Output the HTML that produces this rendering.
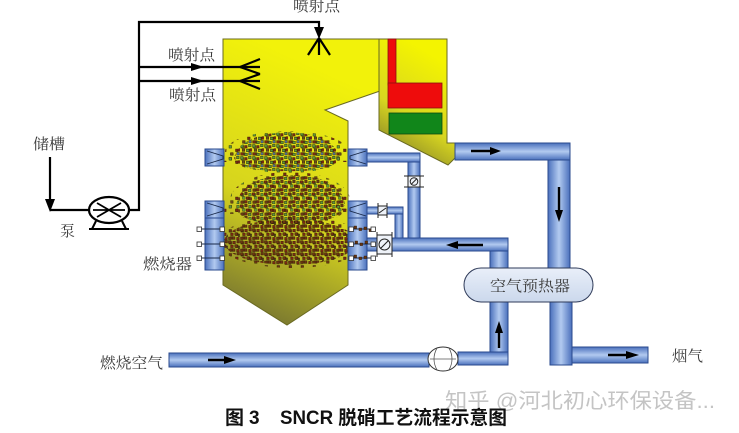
<!DOCTYPE html>
<html><head><meta charset="utf-8">
<style>
html,body{margin:0;padding:0;background:#fff;}
svg{display:block;}
.lbl{font-family:"Liberation Serif","Noto Serif CJK SC",serif;font-size:15px;fill:#3a3a3a;}
.cap{font-family:"Liberation Sans","Noto Sans CJK SC",sans-serif;font-size:19px;font-weight:bold;fill:#111;}
.wm{font-family:"Liberation Sans","Noto Sans CJK SC",sans-serif;font-size:21px;fill:#c4c4c4;}
</style></head><body>
<svg width="739" height="433" viewBox="0 0 739 433" xmlns="http://www.w3.org/2000/svg">
<defs>
 <linearGradient id="ph" x1="0" y1="0" x2="0" y2="1"><stop offset="0" stop-color="#4a70bc"/><stop offset="0.5" stop-color="#b2caf0"/><stop offset="1" stop-color="#4a70bc"/></linearGradient>
 <linearGradient id="pv" x1="0" y1="0" x2="1" y2="0"><stop offset="0" stop-color="#4a70bc"/><stop offset="0.5" stop-color="#b2caf0"/><stop offset="1" stop-color="#4a70bc"/></linearGradient>
 <linearGradient id="fur" gradientUnits="userSpaceOnUse" x1="345" y1="80" x2="235" y2="320"><stop offset="0" stop-color="#f2f20a"/><stop offset="0.55" stop-color="#d6d41e"/><stop offset="1" stop-color="#6f6d32"/></linearGradient>
 <linearGradient id="bp" gradientUnits="userSpaceOnUse" x1="440" y1="60" x2="385" y2="150"><stop offset="0" stop-color="#f4f400"/><stop offset="0.6" stop-color="#d8d620"/><stop offset="1" stop-color="#8a8828"/></linearGradient>
 <linearGradient id="pre" x1="0" y1="0" x2="0" y2="1"><stop offset="0" stop-color="#e9eff9"/><stop offset="1" stop-color="#cbd8ec"/></linearGradient>

 <pattern id="pA" width="12" height="12" patternUnits="userSpaceOnUse">
  <g stroke="#2a1a08" stroke-width="0.4">
   <rect x="0.5" y="0.5" width="2.6" height="2.6" fill="#5c9a38"/>
   <rect x="4.5" y="1.5" width="2.6" height="2.6" fill="#7a2a12"/>
   <rect x="8.5" y="0.2" width="2.6" height="2.6" fill="#5c9a38"/>
   <rect x="2.2" y="4.8" width="2.6" height="2.6" fill="#6b4a1a"/>
   <rect x="6.4" y="5.2" width="2.6" height="2.6" fill="#5c9a38"/>
   <rect x="10" y="4.6" width="2.6" height="2.6" fill="#7a2a12"/>
   <rect x="0.6" y="8.6" width="2.6" height="2.6" fill="#7a2a12"/>
   <rect x="4.8" y="9.2" width="2.6" height="2.6" fill="#5c9a38"/>
   <rect x="8.8" y="8.4" width="2.6" height="2.6" fill="#4f6f8f"/>
  </g>
 </pattern>
 <pattern id="pB" width="12" height="12" patternUnits="userSpaceOnUse">
  <g stroke="#2a1a08" stroke-width="0.4">
   <rect x="0.3" y="0.8" width="2.6" height="2.6" fill="#7a2a12"/>
   <rect x="4.6" y="0.3" width="2.6" height="2.6" fill="#6b3a14"/>
   <rect x="8.7" y="1.4" width="2.6" height="2.6" fill="#5c9a38"/>
   <rect x="2.5" y="4.6" width="2.6" height="2.6" fill="#5c9a38"/>
   <rect x="6.2" y="4.9" width="2.6" height="2.6" fill="#7a2a12"/>
   <rect x="9.8" y="5.6" width="2.6" height="2.6" fill="#6b3a14"/>
   <rect x="0.8" y="8.9" width="2.6" height="2.6" fill="#6b3a14"/>
   <rect x="4.6" y="8.5" width="2.6" height="2.6" fill="#7a2a12"/>
   <rect x="8.4" y="9.3" width="2.6" height="2.6" fill="#5c9a38"/>
  </g>
 </pattern>
 <pattern id="pC" width="12" height="12" patternUnits="userSpaceOnUse">
  <g stroke="#2a1a08" stroke-width="0.4">
   <rect x="0.4" y="0.6" width="2.6" height="2.6" fill="#6a3410"/>
   <rect x="4.8" y="1.2" width="2.6" height="2.6" fill="#7a2a12"/>
   <rect x="8.9" y="0.4" width="2.6" height="2.6" fill="#6a3410"/>
   <rect x="2.6" y="5.0" width="2.6" height="2.6" fill="#7a2a12"/>
   <rect x="6.8" y="4.6" width="2.6" height="2.6" fill="#6a3410"/>
   <rect x="10.2" y="6.0" width="2.6" height="2.6" fill="#5a4a18"/>
   <rect x="0.5" y="9.0" width="2.6" height="2.6" fill="#6a3410"/>
   <rect x="4.4" y="8.8" width="2.6" height="2.6" fill="#6a3410"/>
   <rect x="8.6" y="9.4" width="2.6" height="2.6" fill="#7a2a12"/>
  </g>
 </pattern>
 <pattern id="pS" width="12" height="12" patternUnits="userSpaceOnUse">
  <g stroke="#2a1a08" stroke-width="0.4">
   <rect x="1.0" y="1.5" width="2.6" height="2.6" fill="#5c9a38"/>
   <rect x="7.5" y="5.0" width="2.6" height="2.6" fill="#7a2a12"/>
   <rect x="2.5" y="8.6" width="2.6" height="2.6" fill="#6b4a1a"/>
  </g>
 </pattern>
 <pattern id="pSC" width="12" height="12" patternUnits="userSpaceOnUse">
  <g stroke="#2a1a08" stroke-width="0.4">
   <rect x="1.0" y="1.5" width="2.6" height="2.6" fill="#6a3410"/>
   <rect x="7.5" y="5.0" width="2.6" height="2.6" fill="#7a2a12"/>
   <rect x="2.5" y="8.6" width="2.6" height="2.6" fill="#6a3410"/>
  </g>
 </pattern>
</defs>

<!-- furnace -->
<polygon points="223,39 380,39 380,91 325,110 348,121 348,285 287,325 223,285" fill="url(#fur)" stroke="#6a6a22" stroke-width="1"/>
<!-- back pass -->
<polygon points="379,39 447,39 447,143 455,143 455,158 448,165 379,130" fill="url(#bp)" stroke="#6a6a22" stroke-width="1"/>
<rect x="388" y="39" width="8" height="46" fill="#ee0c0c" stroke="#8a1010" stroke-width="0.8"/>
<rect x="388" y="83" width="54" height="25" fill="#ee0c0c" stroke="#8a1010" stroke-width="0.8"/>
<rect x="389" y="113" width="53" height="21" fill="#11861a" stroke="#0a4a10" stroke-width="0.8"/>

<!-- particle clouds -->
<ellipse cx="287" cy="152" rx="62" ry="21" fill="url(#pS)"/>
<path d="M234,158 Q240,134 287,132 Q334,134 340,158 Q334,172 287,171 Q240,172 234,158 Z" fill="url(#pA)"/>
<rect x="224" y="153" width="14" height="9" fill="url(#pS)"/>
<rect x="334" y="153" width="14" height="9" fill="url(#pS)"/>
<ellipse cx="290" cy="200" rx="60" ry="28" fill="url(#pS)"/>
<path d="M236,208 Q238,176 292,175 Q342,177 345,205 Q340,224 290,225 Q240,224 236,208 Z" fill="url(#pB)"/>
<rect x="224" y="205" width="14" height="9" fill="url(#pS)"/>
<rect x="334" y="205" width="14" height="9" fill="url(#pS)"/>
<ellipse cx="292" cy="242" rx="74" ry="26" fill="url(#pSC)"/>
<ellipse cx="290" cy="242" rx="66" ry="23" fill="url(#pC)"/>

<!-- pipes -->
<g stroke="#2a4a8e" stroke-width="1">
 <rect x="548" y="143" width="22" height="125" fill="url(#pv)"/>
 <rect x="455" y="143" width="115" height="17" fill="url(#ph)"/>
 <rect x="550" y="302" width="22" height="63" fill="url(#pv)"/>
 <rect x="572" y="347" width="76" height="16" fill="url(#ph)"/>
 <rect x="169" y="353" width="260" height="14" fill="url(#ph)"/>
 <rect x="490" y="302" width="18" height="63" fill="url(#pv)"/>
 <rect x="458" y="352" width="50" height="13" fill="url(#ph)"/>
 <rect x="490" y="238" width="18" height="30" fill="url(#pv)"/>
 <rect x="392" y="238" width="116" height="13" fill="url(#ph)"/>
 <rect x="367" y="238" width="10" height="13" fill="url(#ph)"/>
 <rect x="408" y="153" width="12" height="85" fill="url(#pv)"/>
 <rect x="367" y="153" width="53" height="9" fill="url(#ph)"/>
 <rect x="395" y="207" width="8" height="31" fill="url(#pv)"/>
 <rect x="367" y="207" width="36" height="7" fill="url(#ph)"/>
</g>

<!-- valves -->
<g stroke="#222" stroke-width="1" fill="#eef2f8">
 <rect x="408" y="176" width="12" height="11"/>
 <line x1="404" y1="176" x2="424" y2="176"/>
 <line x1="404" y1="187" x2="424" y2="187"/>
 <circle cx="414" cy="181.5" r="3.8" fill="none"/>
 <line x1="411" y1="184.5" x2="417" y2="178.5"/>
 <rect x="378" y="206" width="9" height="9"/>
 <line x1="378" y1="203" x2="378" y2="218"/>
 <line x1="387" y1="203" x2="387" y2="218"/>
 <line x1="379" y1="213" x2="386" y2="208"/>
 <rect x="377" y="235" width="15" height="19"/>
 <line x1="377" y1="232" x2="377" y2="257"/>
 <line x1="392" y1="232" x2="392" y2="257"/>
 <circle cx="384.5" cy="244.5" r="5.5" fill="none"/>
 <line x1="380.5" y1="248.5" x2="388.5" y2="240.5"/>
</g>

<!-- burners -->
<g stroke="#2a4a8e" stroke-width="1">
 <rect x="205" y="149" width="19" height="17" fill="url(#pv)"/>
 <rect x="205" y="201" width="19" height="69" fill="url(#pv)"/>
 <rect x="348" y="149" width="19" height="17" fill="url(#pv)"/>
 <rect x="348" y="201" width="19" height="69" fill="url(#pv)"/>
 <line x1="205" y1="218" x2="224" y2="218"/>
 <line x1="348" y1="218" x2="367" y2="218"/>
</g>
<g stroke="#1a2a4a" stroke-width="0.9" fill="none">
 <path d="M207,151 L223,156 L223,159 L207,164"/>
 <path d="M207,203 L223,208 L223,211 L207,216"/>
 <path d="M366,151 L350,156 L350,159 L366,164"/>
 <path d="M366,203 L350,208 L350,211 L366,216"/>
 <path d="M200,229 H222 M200,244 H222 M200,258 H222"/>
 <path d="M351,229 H373 M351,244 H373 M351,258 H373"/>
</g>
<!-- spray dashes over right windbox -->
<g fill="#6a3410" stroke="#2a1a08" stroke-width="0.4">
 <rect x="354" y="226" width="2.6" height="2.6"/><rect x="359" y="228" width="2.6" height="2.6"/><rect x="364" y="227" width="2.6" height="2.6"/><rect x="369" y="229" width="2.6" height="2.6"/>
 <rect x="355" y="241" width="2.6" height="2.6"/><rect x="360" y="243" width="2.6" height="2.6"/><rect x="365" y="241" width="2.6" height="2.6"/>
 <rect x="354" y="255" width="2.6" height="2.6"/><rect x="359" y="257" width="2.6" height="2.6"/><rect x="364" y="256" width="2.6" height="2.6"/>
</g>
<g fill="#fff" stroke="#333" stroke-width="0.8">
 <rect x="197" y="227" width="4.5" height="4.5"/><rect x="197" y="242" width="4.5" height="4.5"/><rect x="197" y="256" width="4.5" height="4.5"/>
 <rect x="220" y="227" width="4.5" height="4.5"/><rect x="220" y="242" width="4.5" height="4.5"/><rect x="220" y="256" width="4.5" height="4.5"/>
 <rect x="349" y="227" width="4.5" height="4.5"/><rect x="349" y="242" width="4.5" height="4.5"/><rect x="349" y="256" width="4.5" height="4.5"/>
 <rect x="371" y="227" width="4.5" height="4.5"/><rect x="371" y="242" width="4.5" height="4.5"/><rect x="371" y="256" width="4.5" height="4.5"/>
</g>

<!-- air preheater -->
<rect x="464" y="268" width="129" height="34" rx="17" ry="17" fill="url(#pre)" stroke="#2e3a58" stroke-width="1"/>
<text class="lbl" x="490" y="291" textLength="80" lengthAdjust="spacingAndGlyphs">空气预热器</text>

<!-- fan -->
<ellipse cx="443" cy="359" rx="15" ry="12" fill="#fff" stroke="#333" stroke-width="1"/>
<path d="M437,348 Q431,359 437,370 M449,348 Q455,359 449,370 M430,359 H456" fill="none" stroke="#555" stroke-width="0.8"/>

<!-- flow arrows -->
<g stroke="#000" stroke-width="2.4" fill="#000">
 <line x1="471" y1="151" x2="492" y2="151"/><polygon points="490,147 501,151 490,155" stroke="none"/>
 <line x1="559" y1="187" x2="559" y2="212"/><polygon points="555,210 563,210 559,222" stroke="none"/>
 <line x1="483" y1="245" x2="456" y2="245"/><polygon points="458,241 446,245 458,249" stroke="none"/>
 <line x1="499" y1="348" x2="499" y2="331"/><polygon points="495,333 503,333 499,321" stroke="none"/>
 <line x1="208" y1="360" x2="226" y2="360"/><polygon points="224,356 236,360 224,364" stroke="none"/>
 <line x1="608" y1="355" x2="628" y2="355"/><polygon points="626,351 639,355 626,359" stroke="none"/>
</g>

<!-- reagent lines -->
<g stroke="#000" stroke-width="2.2" fill="none">
 <path d="M50,157 V200"/>
 <path d="M50,210 H89"/>
 <path d="M129,210 H139 V22 H319 V28"/>
 <path d="M139,67 H260 M139,81 H260"/>
 <path d="M240,67 L260,59 M240,67 L260,74 M240,81 L260,74 M240,81 L260,89"/>
 <path d="M319,38 L308,55 M319,38 L330,55 M319,38 V55"/>
 <ellipse cx="109" cy="210" rx="20" ry="13" fill="#fff"/>
 <path d="M97,203 L121,217 M97,217 L121,203 M93,210 H125" stroke-width="1.8"/>
 <path d="M89,229 H129 M96,221 L92,229 M122,221 L126,229" stroke-width="2"/>
</g>
<g fill="#000">
 <polygon points="45,199 55,199 50,212"/>
 <polygon points="314,27 324,27 319,39"/>
 <polygon points="191,63 191,71 204,67"/>
 <polygon points="191,77 191,85 204,81"/>
</g>

<!-- labels -->
<text class="lbl" x="293" y="11" textLength="47" lengthAdjust="spacingAndGlyphs">喷射点</text>
<text class="lbl" x="168" y="60" textLength="47" lengthAdjust="spacingAndGlyphs">喷射点</text>
<text class="lbl" x="169" y="100" textLength="47" lengthAdjust="spacingAndGlyphs">喷射点</text>
<text class="lbl" x="33" y="149" textLength="32" lengthAdjust="spacingAndGlyphs">储槽</text>
<text class="lbl" x="60" y="236">泵</text>
<text class="lbl" x="143" y="269" textLength="49" lengthAdjust="spacingAndGlyphs">燃烧器</text>
<text class="lbl" x="100" y="368" textLength="63" lengthAdjust="spacingAndGlyphs">燃烧空气</text>
<text class="lbl" x="672" y="361" textLength="31" lengthAdjust="spacingAndGlyphs">烟气</text>

<text class="wm" x="445" y="408" textLength="270" lengthAdjust="spacingAndGlyphs">知乎 @河北初心环保设备...</text>
<text class="cap" x="225" y="424">图</text>
<text class="cap" x="249" y="424">3</text>
<text class="cap" x="280" y="424" textLength="227" lengthAdjust="spacingAndGlyphs">SNCR 脱硝工艺流程示意图</text>
</svg>
</body></html>
